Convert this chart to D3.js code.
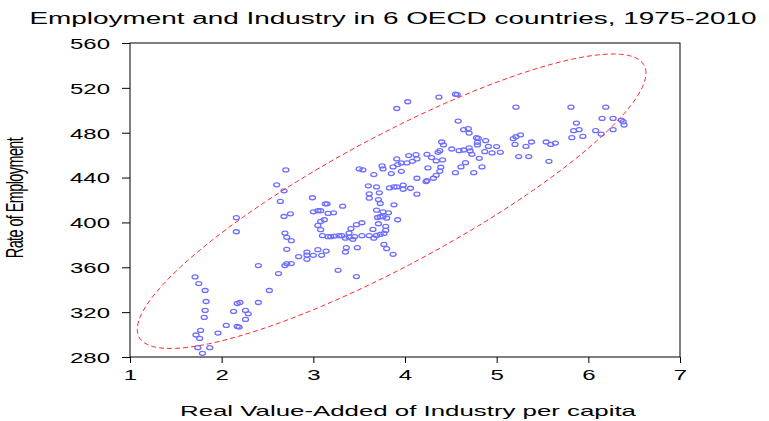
<!DOCTYPE html>
<html><head><meta charset="utf-8">
<script src="https://cdn.jsdelivr.net/npm/d3@7"></script>
<style>
body{margin:0;background:#fff}
text{font-family:"Liberation Sans",Arial,sans-serif;fill:#000}
</style>
</head><body>
<svg id="chart" width="769" height="421"></svg>
<script>
const chartTitle = "Employment and Industry in 6 OECD countries, 1975-2010";
const xAxisLabel = "Real Value-Added of Industry per capita";
const yAxisLabel = "Rate of Employment";
const xTicks = [1, 2, 3, 4, 5, 6, 7];
const yTicks = [280, 320, 360, 400, 440, 480, 520, 560];

const xValues = [
1.71,1.75,1.82,1.83,1.82,1.81,1.77,1.72,1.76,1.74,1.87,1.79,1.96,2.05,2.17,2.19,2.26,2.29,2.26,2.13,
2.17,2.20,2.40,2.52,2.62,2.40,2.69,2.71,2.71,2.76,2.16,2.16,2.70,2.60,2.68,2.64,2.68,2.75,2.69,2.71,
2.76,2.84,2.93,2.93,2.93,3.00,3.05,3.09,3.14,2.99,3.13,3.15,3.32,3.00,3.05,3.08,3.16,3.22,3.12,3.08,
3.05,3.08,3.10,3.16,3.19,3.23,3.28,3.31,3.35,3.39,3.41,3.39,3.45,3.43,3.47,3.53,3.36,3.35,3.48,3.27,
3.47,3.53,3.61,3.66,3.69,3.73,3.77,3.65,3.71,3.79,3.79,3.70,3.73,3.76,3.80,3.69,3.76,3.82,3.92,3.77,
3.80,3.87,3.88,3.73,3.71,3.60,3.69,3.61,3.72,3.61,3.66,3.50,3.54,3.75,3.76,3.85,3.87,3.92,3.96,4.02,
3.96,3.83,3.88,3.91,3.98,3.98,3.91,4.03,4.37,4.55,4.57,4.58,4.64,4.69,4.70,4.78,4.80,4.88,4.79,4.40,
4.42,4.51,4.59,4.64,4.70,4.71,4.38,4.36,4.34,4.41,4.24,4.29,4.12,4.13,4.04,4.08,3.91,4.25,4.39,4.38,
4.34,4.31,4.24,4.23,4.13,4.55,4.61,4.66,4.73,4.75,4.84,4.81,4.87,4.91,4.06,4.13,5.21,5.81,6.19,6.15,
6.27,6.36,6.38,6.39,5.87,5.84,5.90,6.08,6.14,6.27,5.82,5.94,5.21,5.26,5.18,5.38,5.32,5.20,5.54,5.59,
5.64,5.24,5.35,5.57,5.00,5.04,4.95,4.79
];
const yValues = [
351.4,345.5,339.3,329.5,321.5,315.3,303.7,299.6,296.6,288.3,288.3,283.3,301.3,308.2,307.3,306.7,313.5,318.5,321.5,320.6,
327.7,328.6,328.6,339.3,354.4,361.5,361.5,363.3,376.0,363.3,404.2,391.7,446.8,433.5,428.2,418.7,405.3,407.7,390.5,386.7,
383.7,369.5,370.9,373.6,367.1,370.7,375.7,370.7,374.5,422.0,416.6,416.6,414.5,409.5,410.4,410.4,408.0,408.6,402.4,400.9,
397.3,393.5,388.2,387.3,387.3,387.8,388.2,388.2,386.0,390.5,394.4,386.9,387.3,384.9,398.0,399.7,377.5,373.6,377.5,357.3,
351.7,388.2,388.2,386.0,388.4,389.3,390.2,393.8,398.8,396.4,392.9,404.4,405.1,405.1,403.8,410.9,409.5,408.6,402.4,380.4,
376.6,371.6,415.7,416.9,420.4,432.6,431.7,425.5,426.4,421.6,442.7,447.7,446.8,450.4,447.7,443.6,449.5,451.6,453.1,453.1,
445.6,430.8,431.7,431.7,433.2,429.6,501.6,507.6,511.7,514.4,514.0,490.4,482.7,483.6,479.7,475.6,474.9,472.9,471.4,471.7,
469.1,465.5,464.0,464.6,466.4,463.7,464.0,462.5,454.8,455.7,460.7,457.8,460.4,456.6,459.6,454.5,456.6,448.6,449.2,445.6,
442.0,439.4,437.3,436.4,439.4,444.4,449.5,453.3,460.7,444.4,449.5,457.2,463.1,467.8,430.5,425.2,502.8,502.8,502.8,492.7,
492.7,491.3,489.8,486.8,488.6,481.8,482.7,481.8,478.8,482.7,475.6,476.7,476.4,478.0,474.7,471.7,467.8,469.6,471.7,469.6,
470.8,458.7,458.7,454.5,467.6,462.5,462.0,469.1
];

// Confidence ellipse (data units)
const ellipseCenter = [3.854, 418.9];
const ellipseHalfRange = [2.775, 131.3];
const ellipseCorrelation = 0.87;

const SX = 1.6; // horizontal text stretch seen in the picture

const svg = d3.select("#chart");
const x = d3.scaleLinear().domain([1, 7]).range([130, 680]);
const y = d3.scaleLinear().domain([280, 560]).range([357, 43]);

// Title
svg.append("text")
  .attr("x", 393).attr("y", 24)
  .attr("text-anchor", "middle")
  .attr("font-size", 16)
  .attr("textLength", 727).attr("lengthAdjust", "spacingAndGlyphs")
  .text(chartTitle);

// Y axis
const gy = svg.append("g").attr("transform", `translate(${x(1)},0)`)
  .call(d3.axisLeft(y).tickValues(yTicks).tickSize(8).tickPadding(0).tickFormat(d3.format("d")));
gy.select(".domain").remove();
gy.selectAll(".tick line").attr("stroke", "#000");
gy.selectAll(".tick text")
  .attr("font-size", 15).attr("font-family", "Liberation Sans, Arial, sans-serif")
  .attr("x", -20 / SX).attr("dy", "0.36em")
  .attr("transform", `scale(${SX},1)`);

// X axis
const gx = svg.append("g").attr("transform", `translate(0,${y(280)})`)
  .call(d3.axisBottom(x).tickValues(xTicks).tickSize(6).tickPadding(6).tickFormat(d3.format("d")));
gx.select(".domain").remove();
gx.selectAll(".tick line").attr("stroke", "#000");
gx.selectAll(".tick text")
  .attr("font-size", 15).attr("font-family", "Liberation Sans, Arial, sans-serif")
  .attr("transform", `scale(${SX},1)`);

// Frame
svg.append("rect")
  .attr("x", x(1)).attr("y", y(560))
  .attr("width", x(7) - x(1)).attr("height", y(280) - y(560))
  .attr("fill", "none").attr("stroke", "#000").attr("stroke-width", 1);

// X label
svg.append("text")
  .attr("x", 408).attr("y", 416)
  .attr("text-anchor", "middle")
  .attr("font-size", 15)
  .attr("textLength", 456).attr("lengthAdjust", "spacingAndGlyphs")
  .text(xAxisLabel);

// Y label
svg.append("text")
  .attr("transform", `translate(23,198) scale(${SX},1) rotate(-90)`)
  .attr("text-anchor", "middle")
  .attr("font-size", 14.5)
  .attr("letter-spacing", -0.6)
  .text(yAxisLabel);

// Points
const pts = xValues.map((v, i) => ({x: v, y: yValues[i]}));
svg.append("g").selectAll("ellipse").data(pts).join("ellipse")
  .attr("cx", d => x(d.x)).attr("cy", d => y(d.y))
  .attr("rx", 3).attr("ry", 2)
  .attr("fill", "none").attr("stroke", "#6e6eff").attr("stroke-width", 1.3);

// Ellipse
const r = ellipseCorrelation, s = Math.sqrt(1 - r * r);
const eps = d3.range(0, 361, 2).map(deg => {
  const t = deg * Math.PI / 180;
  return [ellipseCenter[0] + ellipseHalfRange[0] * Math.cos(t),
          ellipseCenter[1] + ellipseHalfRange[1] * (r * Math.cos(t) + s * Math.sin(t))];
});
svg.append("path")
  .attr("d", d3.line().x(d => x(d[0])).y(d => y(d[1])).curve(d3.curveLinearClosed)(eps))
  .attr("fill", "none").attr("stroke", "#ff2a2a").attr("stroke-width", 1)
  .attr("stroke-dasharray", "5,3");
</script>
</body></html>
